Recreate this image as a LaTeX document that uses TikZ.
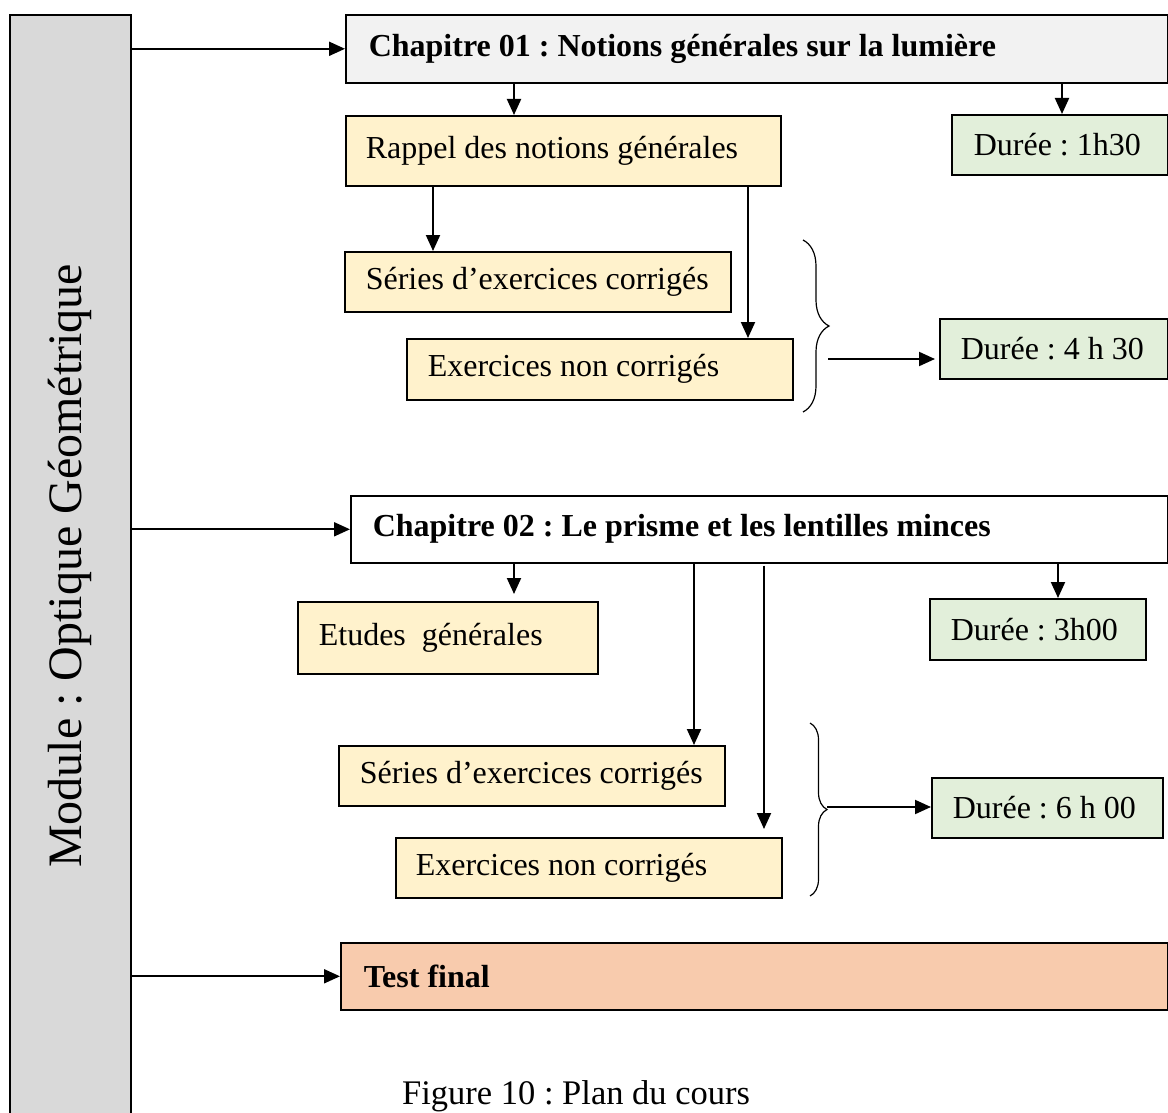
\documentclass[tikz,border=0pt]{standalone}
\usepackage{fontspec}
\setmainfont{Liberation Serif}
\frenchspacing
\usetikzlibrary{arrows.meta,decorations.pathreplacing,calc}
\definecolor{modgray}{HTML}{D9D9D9}
\definecolor{chapgray}{HTML}{F2F2F2}
\definecolor{yel}{HTML}{FFF2CC}
\definecolor{grn}{HTML}{E2EFDA}
\definecolor{org}{HTML}{F8CBAD}
\begin{document}
\begin{tikzpicture}[x=1pt,y=-1pt,
  bx/.style={draw, line width=1.6pt, anchor=north west, inner ysep=0pt, font=\fontsize{32}{38}\selectfont},
  arr/.style={line width=2pt, -{Triangle[length=16pt,width=14pt]}},
  brc/.style={line width=1.2pt, decorate, decoration={brace, amplitude=#1}}]
\useasboundingbox (0,0) rectangle (1168,1113);
\clip (0,0) rectangle (1168,1113);

% module column
\node[bx, fill=modgray, minimum width=121, minimum height=1102, inner xsep=0pt, font=\fontsize{48}{54}\selectfont] (mod) at (9,14) {\rotatebox{90}{Module : Optique Géométrique}};

% chapter 01
\node[bx, fill=chapgray, minimum width=822, minimum height=68, inner xsep=23, font=\fontsize{32}{38}\selectfont\bfseries] (chap1) at (345,14) {\makebox[776pt][l]{Chapitre 01 : Notions générales sur la lumière}};
\node[bx, fill=yel, minimum width=435, minimum height=70, inner xsep=20] (rappel) at (345,115) {\makebox[395pt][l]{Rappel des notions générales}};
\node[bx, fill=grn, minimum width=216, minimum height=60, inner xsep=22] (d1) at (951,114) {\makebox[172pt][l]{Durée : 1h30}};
\node[bx, fill=yel, minimum width=386, minimum height=60, inner xsep=21] (s1) at (344,251) {\makebox[344pt][l]{Séries d’exercices corrigés}};
\node[bx, fill=yel, minimum width=386, minimum height=61, inner xsep=21] (e1) at (406,338) {\makebox[344pt][l]{Exercices non corrigés}};
\node[bx, fill=grn, minimum width=228, minimum height=60, inner xsep=21] (d2) at (939,318) {\makebox[186pt][l]{Durée : 4 h 30}};

% chapter 02
\node[bx, fill=white, minimum width=817, minimum height=67, inner xsep=22, font=\fontsize{32}{38}\selectfont\bfseries] (chap2) at (350,495) {\makebox[773pt][l]{Chapitre 02 : Le prisme et les lentilles minces}};
\node[bx, fill=yel, minimum width=300, minimum height=72, inner xsep=21] (et) at (297,601) {\makebox[258pt][l]{Etudes\ \ générales}};
\node[bx, fill=grn, minimum width=216, minimum height=61, inner xsep=21] (d3) at (929,598) {\makebox[174pt][l]{Durée : 3h00}};
\node[bx, fill=yel, minimum width=386, minimum height=60, inner xsep=21] (s2) at (338,745) {\makebox[344pt][l]{Séries d’exercices corrigés}};
\node[bx, fill=yel, minimum width=386, minimum height=60, inner xsep=20] (e2) at (395,837) {\makebox[346pt][l]{Exercices non corrigés}};
\node[bx, fill=grn, minimum width=231, minimum height=60, inner xsep=21] (d4) at (931,777) {\makebox[189pt][l]{Durée : 6 h 00}};

% test final
\node[bx, fill=org, minimum width=827, minimum height=67, inner xsep=23, font=\fontsize{32}{38}\selectfont\bfseries] (test) at (340,942) {\makebox[781pt][l]{Test final}};

% caption
\node[anchor=base west, inner sep=0pt, font=\fontsize{34.5}{40}\selectfont] (cap) at (402,1104) {Figure 10 : Plan du cours};

% connectors
\draw[arr] (mod.east |- chap1.west) -- (chap1.west);
\draw[arr] (514,0 |- chap1.south) -- (514,0 |- rappel.north);
\draw[arr] (1062,0 |- chap1.south) -- (1062,0 |- d1.north);
\draw[arr] (433,0 |- rappel.south) -- (433,0 |- s1.north);
\draw[arr] (748,0 |- rappel.south) -- (748,0 |- e1.north);
\draw[brc=26pt] (803,240) -- (803,412);
\coordinate (b1) at (828,359);
\draw[arr, shorten >=4pt] (b1) -- (d2.west |- b1);

\draw[arr] (mod.east |- chap2.west) -- (chap2.west);
\draw[arr, shorten >=7pt] (514,0 |- chap2.south) -- (514,0 |- et.north);
\draw[arr] (694,0 |- chap2.south) -- (694,0 |- s2.north);
\draw[arr, shorten >=8pt, shorten <=2pt] (764,0 |- chap2.south) -- (764,0 |- e2.north);
\draw[arr] (1058,0 |- chap2.south) -- (1058,0 |- d3.north);
\draw[brc=17pt] (810,723) -- (810,896);
\coordinate (b2) at (827,807);
\draw[arr] (b2) -- (d4.west |- b2);

\draw[arr] (mod.east |- test.west) -- (test.west);
\end{tikzpicture}
\end{document}
